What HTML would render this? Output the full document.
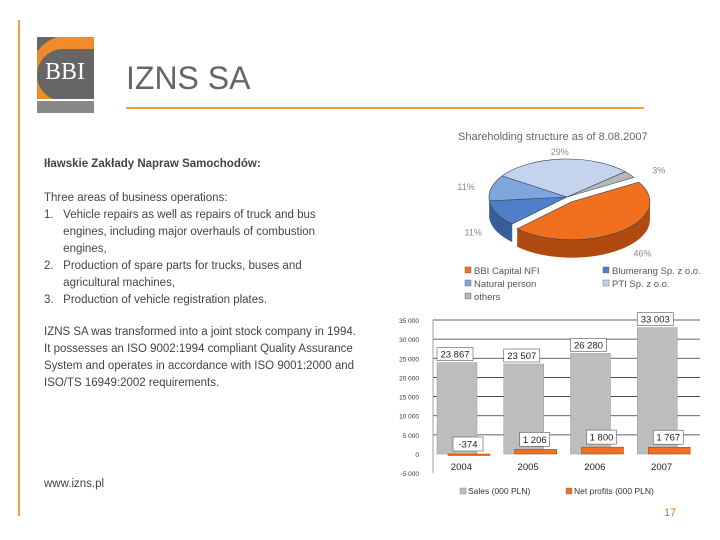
<!DOCTYPE html>
<html><head><meta charset="utf-8">
<style>
body{margin:0;width:720px;height:540px;background:#fff;position:relative;overflow:hidden;font-family:"Liberation Sans",sans-serif;}
.t{position:absolute;left:44px;font-size:11.5px;color:#444;white-space:nowrap;line-height:17px;}
</style></head><body>
<div style="position:absolute;left:18px;top:20px;width:2px;height:496px;background:#f0a040"></div>
<svg style="position:absolute;left:37px;top:37px" width="57" height="76">
<rect width="57" height="76" fill="#666"/>
<path d="M57 0 H20 A40 40 0 0 0 20 76 H57 V64 H26 A26 26 0 0 1 26 12 H57Z" fill="#f08a2a"/>
<rect x="0" y="64" width="57" height="12" fill="#888"/>
<rect x="0" y="62" width="57" height="2" fill="#fff"/>
<text x="28" y="42" text-anchor="middle" font-family="Liberation Serif" font-size="24" fill="#fff">BBI</text>
</svg>
<div style="position:absolute;left:126px;top:60px;font-size:32px;color:#666">IZNS SA</div>
<div style="position:absolute;left:126px;top:107px;width:518px;height:2px;background:#f0a040"></div>
<div class="t" style="top:156px;font-weight:bold">Iławskie Zakłady Napraw Samochodów:</div>
<div class="t" style="top:190px">Three areas of business operations:<br>1.&nbsp;&nbsp; Vehicle repairs as well as repairs of truck and bus<br>&nbsp;&nbsp;&nbsp;&nbsp;&nbsp; engines, including major overhauls of combustion<br>&nbsp;&nbsp;&nbsp;&nbsp;&nbsp; engines,<br>2.&nbsp;&nbsp; Production of spare parts for trucks, buses and<br>&nbsp;&nbsp;&nbsp;&nbsp;&nbsp; agricultural machines,<br>3.&nbsp;&nbsp; Production of vehicle registration plates.</div>
<div class="t" style="top:324px">IZNS SA was transformed into a joint stock company in 1994.<br>It possesses an ISO 9002:1994 compliant Quality Assurance<br>System and operates in accordance with ISO 9001:2000 and<br>ISO/TS 16949:2002 requirements.</div>
<div class="t" style="top:476px">www.izns.pl</div>
<div style="position:absolute;left:664px;top:507px;font-size:11px;color:#e07020">17</div>
<svg id="pie" style="position:absolute;left:440px;top:120px" width="270" height="190"></svg>
<svg id="bar" style="position:absolute;left:380px;top:305px" width="340" height="200"></svg>
<script>
const pieLabels=["BBI Capital NFI","Blumerang Sp. z o.o.","Natural person","PTI Sp. z o.o.","others"];
const pieValues=[46,11,11,29,3];
const pieColors=["#f07020","#4f7fc8","#7fa6dc","#c4d4ee","#b8b8b8"];
const pieDark=["#b04a10","#385e98","#5a80b8","#909eb8","#888"];
const years=["2004","2005","2006","2007"];
const sales=[23867,23507,26280,33003];
const profits=[-374,1206,1800,1767];
const salesLabels=["23 867","23 507","26 280","33 003"];
const profitLabels=["-374","1 206","1 800","1 767"];
const yTicks=[35000,30000,25000,20000,15000,10000,5000,0,-5000];
const yTickLabels=["35 000","30 000","25 000","20 000","15 000","10 000","5 000","0","-5 000"];
const NS="http://www.w3.org/2000/svg";
function mk(p,tag,at){const e=document.createElementNS(NS,tag);for(const k in at)e.setAttribute(k,at[k]);p.appendChild(e);return e;}
// PIE
(function(){
const s=document.getElementById('pie');
let t=mk(s,'text',{x:18,y:20,'font-size':11,fill:'#666'});t.textContent='Shareholding structure as of 8.08.2007';

const cx=127,cy=77,rx=78,ry=38,d=18;
const tot=pieValues.reduce((a,b)=>a+b,0);
let a0=-31;const sl=[];
pieValues.forEach((v,i)=>{const a1=a0+v/tot*360;sl.push([a0,a1]);a0=a1;});
const P=(a,dy,ox,oy)=>[cx+ox+rx*Math.cos(a*Math.PI/180),cy+oy+dy+ry*Math.sin(a*Math.PI/180)];
sl.forEach(([a,b],i)=>{
 const mid=(a+b)/2*Math.PI/180;const ox=i==0?8*Math.cos(mid):0,oy=i==0?6*Math.sin(mid):0;
 const s0=Math.max(a,0),s1=Math.min(b,180);
 if(s1>s0){const p1=P(s0,0,ox,oy),p2=P(s1,0,ox,oy),p3=P(s1,d,ox,oy),p4=P(s0,d,ox,oy);
  const e=mk(s,'path',{d:`M${p1} A${rx} ${ry} 0 0 1 ${p2} L${p3} A${rx} ${ry} 0 0 0 ${p4}Z`,fill:pieDark[i]});
  }
});
sl.forEach(([a,b],i)=>{
 const mid=(a+b)/2*Math.PI/180;const ox=i==0?8*Math.cos(mid):0,oy=i==0?6*Math.sin(mid):0;
 const p1=P(a,0,ox,oy),p2=P(b,0,ox,oy);
 const e=mk(s,'path',{d:`M${cx+ox},${cy+oy} L${p1} A${rx} ${ry} 0 ${b-a>180?1:0} 1 ${p2}Z`,fill:pieColors[i],stroke:'#345','stroke-width':0.6});
 
 const c=Math.cos(mid),sn=Math.sin(mid);
 const lx=cx+ox+(rx+18)*c+(c>0?18:-8)*Math.abs(c),ly=cy+oy+(ry+8)*sn+4+(sn>0?d*0.8:0);
 const tx=mk(s,'text',{x:lx,y:ly,'font-size':9,fill:'#888','text-anchor':'middle'});tx.textContent=pieValues[i]+'%';
 
});
const lp=[[25,154],[163,154],[25,167],[163,167],[25,180]];
pieLabels.forEach((l,i)=>{
 const r=mk(s,'rect',{x:lp[i][0],y:lp[i][1]-7,width:6,height:6,fill:pieColors[i],stroke:'#555','stroke-width':0.4});
 
 const tx=mk(s,'text',{x:lp[i][0]+9,y:lp[i][1],'font-size':9.5,fill:'#555'});tx.textContent=l;
 
});
})();
// BAR
(function(){
const s=document.getElementById('bar');
const x0=53,x1=320,yTop=15,yZero=149,ymax=35000;
const Y=v=>yZero-(v/ymax)*(yZero-yTop);
const cw=(x1-x0)/years.length;
mk(s,'rect',{x:x0,y:Y(35000),width:x1-x0,height:Y(-5000)-Y(35000),fill:'#fff'});
yTicks.forEach((v,i)=>{
 if(v>0){const g=mk(s,'line',{x1:x0,x2:x1,y1:Y(v),y2:Y(v),stroke:'#333','stroke-width':0.8});}
 const tx=mk(s,'text',{x:x0-14,y:Y(v)+3,'font-size':6.5,fill:'#333','text-anchor':'end'});tx.textContent=yTickLabels[i];
 
});
mk(s,'line',{x1:x0,x2:x0,y1:Y(35000),y2:Y(-5000),stroke:'#888','stroke-width':0.8});
years.forEach((yr,i)=>{
 const cs=x0+cw*i;
 const b=mk(s,'rect',{x:cs+4,y:Y(sales[i]),width:40,height:yZero-Y(sales[i]),fill:'#bdbdbd',stroke:'#999','stroke-width':0.5});
 
 const pv=profits[i];const py=Math.min(Y(pv),yZero),ph=Math.max(Math.abs(Y(pv)-yZero),1.5);
 const p=mk(s,'rect',{x:cs+15,y:py,width:42,height:ph,fill:'#f07020',stroke:'#a04010','stroke-width':0.5});
 
 const bw=36;
 const sb=mk(s,'rect',{x:cs+4,y:Y(sales[i])-15,width:bw,height:13,fill:'#fff',stroke:'#555','stroke-width':0.6});
 
 const st=mk(s,'text',{x:cs+4+bw/2,y:Y(sales[i])-5,'font-size':9.5,fill:'#222','text-anchor':'middle'});st.textContent=salesLabels[i];
 
 const pbx=cs+20,pby=Y(Math.max(pv,0))-17;
 const pb=mk(s,'rect',{x:pbx,y:pby,width:30,height:14,fill:'#fff',stroke:'#555','stroke-width':0.6});
 
 const pt=mk(s,'text',{x:pbx+15,y:pby+10.5,'font-size':9.5,fill:'#222','text-anchor':'middle'});pt.textContent=profitLabels[i];
 
 const xt=mk(s,'text',{x:cs+cw/2-5,y:Y(-5000)-3,'font-size':9.5,fill:'#222','text-anchor':'middle'});xt.textContent=yr;
 
});
[['#bdbdbd','Sales (000 PLN)',80],['#f07020','Net profits (000 PLN)',186]].forEach(([c,l,x])=>{
 const r=mk(s,'rect',{x:x,y:183,width:6,height:6,fill:c,stroke:'#777','stroke-width':0.4});
 
 const tx=mk(s,'text',{x:x+8,y:189,'font-size':8.5,fill:'#333'});tx.textContent=l;
 
});
})();
</script>
</body></html>
